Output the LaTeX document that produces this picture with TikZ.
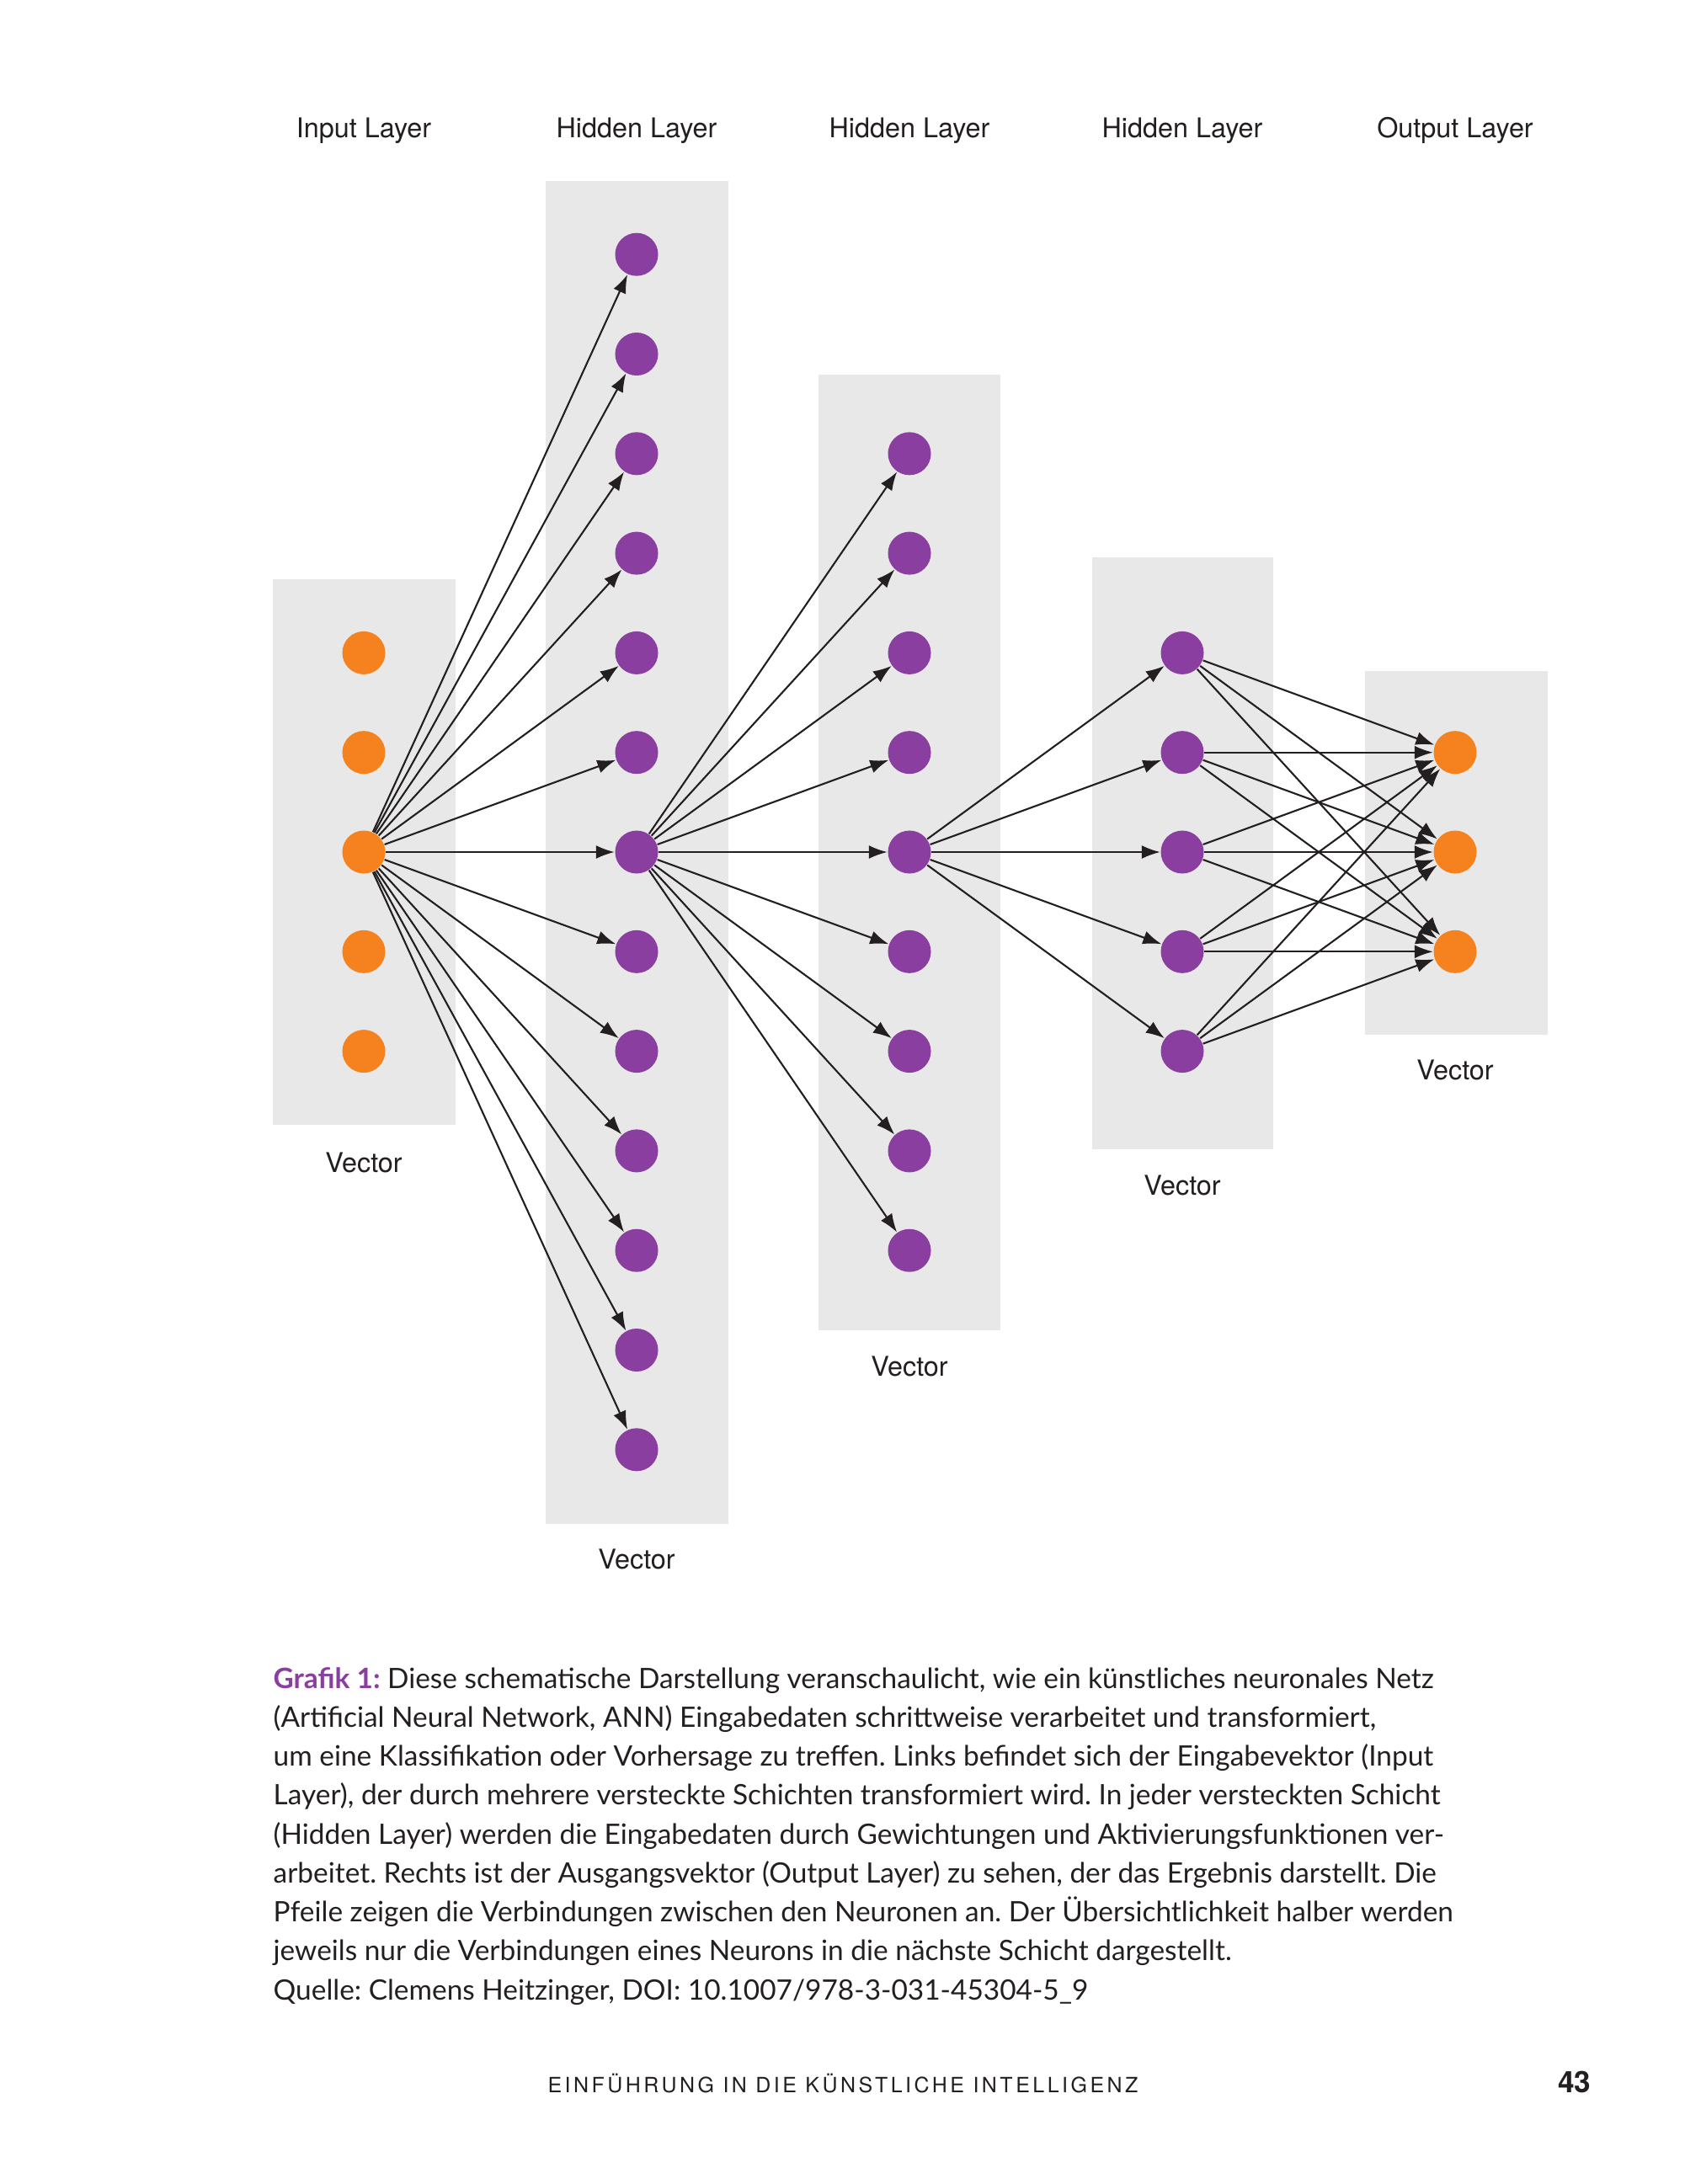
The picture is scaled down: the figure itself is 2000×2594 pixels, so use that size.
\documentclass[tikz,border=0pt]{standalone}
\usepackage{fontspec}
\setmainfont{TeX Gyre Heros}
\newfontfamily\captionfont{Lato}
\usetikzlibrary{arrows.meta}

\definecolor{nodeorange}{HTML}{F5821F}
\definecolor{nodepurple}{HTML}{8A3FA0}
\definecolor{boxgray}{HTML}{E8E8E8}
\definecolor{inkblack}{HTML}{231F20}

\begin{document}
\begin{tikzpicture}[x=0.01cm,y=-0.01cm,
        neuron/.style={circle,inner sep=0pt,minimum size=0.51cm},
        outerneuron/.style={neuron,fill=nodeorange},
        hiddenneuron/.style={neuron,fill=nodepurple},
        layerbox/.style={fill=boxgray},
        layertitle/.style={anchor=base,text=inkblack,font=\fontsize{9.2}{11}\selectfont},
        conn/.style={->,line width=0.6pt,draw=inkblack},
        >={Latex[length=2.2mm,width=1.6mm]}]
    \useasboundingbox (0,0) rectangle (2000,2594);

    % grey boxes behind the layers
    \fill[layerbox] (324,688) rectangle (541,1336);
    \fill[layerbox] (648,215) rectangle (865,1810);
    \fill[layerbox] (972,445) rectangle (1188,1580);
    \fill[layerbox] (1297,662) rectangle (1512,1365);
    \fill[layerbox] (1621,797) rectangle (1838,1229);

    % neurons
    \foreach \i in {1,...,5}
        \node[outerneuron] (in\i) at (432,{1012+(\i-3)*118.3}) {};
    \foreach \i in {1,...,13}
        \node[hiddenneuron] (ha\i) at (756,{1012+(\i-7)*118.3}) {};
    \foreach \i in {1,...,9}
        \node[hiddenneuron] (hb\i) at (1080,{1012+(\i-5)*118.3}) {};
    \foreach \i in {1,...,5}
        \node[hiddenneuron] (hc\i) at (1404,{1012+(\i-3)*118.3}) {};
    \foreach \i in {1,...,3}
        \node[outerneuron] (out\i) at (1728,{1012+(\i-2)*118.3}) {};

    % connections
    \foreach \i in {1,...,13}
        \draw[conn] (in3) -- (ha\i);
    \foreach \i in {1,...,9}
        \draw[conn] (ha7) -- (hb\i);
    \foreach \i in {1,...,5}
        \draw[conn] (hb5) -- (hc\i);
    \foreach \i in {1,...,5}
        \foreach \j in {1,...,3}
            \draw[conn] (hc\i) -- (out\j);

    % layer names
    \node[layertitle] (tin) at (432,163) {Input Layer};
    \node[layertitle] (tha) at (756,163) {Hidden Layer};
    \node[layertitle] (thb) at (1080,163) {Hidden Layer};
    \node[layertitle] (thc) at (1404,163) {Hidden Layer};
    \node[layertitle] (tout) at (1728,163) {Output Layer};

    \node[layertitle] (vin) at (432,1392) {Vector};
    \node[layertitle] (vha) at (756,1863) {Vector};
    \node[layertitle] (vhb) at (1080,1634) {Vector};
    \node[layertitle] (vhc) at (1404,1419) {Vector};
    \node[layertitle] (vout) at (1728,1282) {Vector};

    % caption (base = last line)
    \node[anchor=base west,align=left,inner sep=0pt,text=inkblack,
          font=\captionfont\fontsize{9.5}{13.14}\selectfont\frenchspacing] (caption) at (324,2375)
        {\textcolor{nodepurple}{\bfseries Grafik 1:} Diese schematische Darstellung veranschaulicht, wie ein künstliches neuronales Netz\\
         (Artificial Neural Network, ANN) Eingabedaten schrittweise verarbeitet und transformiert,\\
         um eine Klassifikation oder Vorhersage zu treffen. Links befindet sich der Eingabevektor (Input\\
         Layer), der durch mehrere versteckte Schichten transformiert wird. In jeder versteckten Schicht\\
         (Hidden Layer) werden die Eingabedaten durch Gewichtungen und Aktivierungsfunktionen ver-\\
         arbeitet. Rechts ist der Ausgangsvektor (Output Layer) zu sehen, der das Ergebnis darstellt. Die\\
         Pfeile zeigen die Verbindungen zwischen den Neuronen an. Der Übersichtlichkeit halber werden\\
         jeweils nur die Verbindungen eines Neurons in die nächste Schicht dargestellt.\\
         Quelle: Clemens Heitzinger, DOI: 10.1007/978-3-031-45304-5\_9};

    % page footer
    \node[anchor=base,inner sep=0pt,text=inkblack,font=\fontsize{7.1}{9}\selectfont\addfontfeatures{LetterSpace=14}] (footer) at (1001,2485)
        {EINFÜHRUNG IN DIE KÜNSTLICHE INTELLIGENZ};
    \node[anchor=base east,inner sep=0pt,text=inkblack,font=\fontsize{10}{12}\selectfont\bfseries] (pagenum) at (1890,2485) {43};
\end{tikzpicture}
\end{document}
